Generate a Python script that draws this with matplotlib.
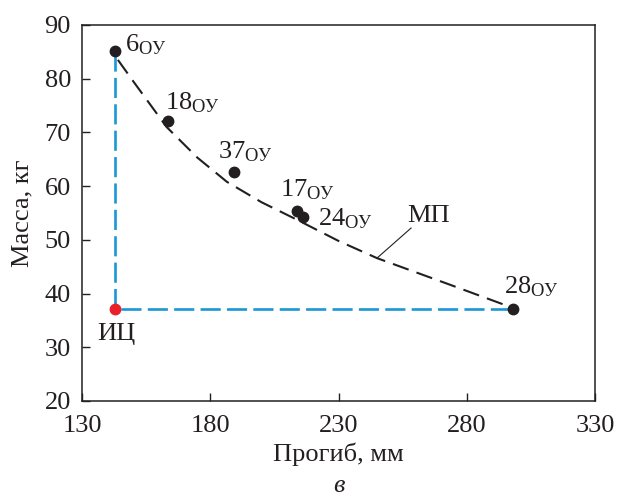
import matplotlib
matplotlib.use("Agg")
import matplotlib.pyplot as plt

plt.rcParams['font.family'] = ['Liberation Serif', 'DejaVu Serif']
plt.rcParams['mathtext.fontset'] = 'custom'
plt.rcParams['mathtext.rm'] = 'Liberation Serif'
plt.rcParams['mathtext.it'] = 'Liberation Serif:italic'
plt.rcParams['lines.scale_dashes'] = False

# Data
names = ['6', '18', '37', '17', '24', '28']
deflection = [143.0, 163.5, 189.3, 214.0, 216.3, 298.0]
mass = [85.2, 72.1, 62.6, 55.3, 54.3, 37.2]
label_x = [146.8, 162.4, 183.0, 207.2, 222.0, 294.5]
label_y = [85.0, 74.2, 65.2, 58.0, 52.6, 40.1]

ideal_x, ideal_y = 143.0, 37.2  # ИЦ

front_x = [144, 150, 163, 175, 186.5, 200, 214, 230, 245, 272, 297]
front_y = [83.5, 79.5, 71.0, 65.3, 60.8, 57.0, 53.7, 49.8, 46.6, 41.9, 37.5]

xticks = [130, 180, 230, 280, 330]
yticks = [20, 30, 40, 50, 60, 70, 80, 90]

ink = '#231f20'
blue = '#1b97d5'
red = '#e8202a'
FS = 19

fig = plt.figure(figsize=(6.18, 4.98), dpi=100)
ax = fig.add_axes([0.1327, 0.1948, 0.8301, 0.755])

# blue guides
ax.plot([deflection[0], ideal_x, deflection[-1]], [mass[0], ideal_y, mass[-1]],
        color=blue, lw=1.9, dashes=(14.5, 4.5), zorder=2)
# Pareto front
ax.plot(front_x, front_y, color=ink, lw=1.5, dashes=(12, 6), zorder=3)
# points
ax.plot(deflection, mass, 'o', color=ink, ms=7.5, zorder=4)
ax.plot([ideal_x], [ideal_y], 'o', color=red, ms=7.5, zorder=5)

for n, lx, ly in zip(names, label_x, label_y):
    ax.text(lx, ly, r'$\mathrm{' + n + r'}_{\mathrm{ОУ}}$', fontsize=FS,
            color=ink, ha='left', va='baseline')

ax.text(135.8, 31.3, 'ИЦ', fontsize=FS, color=ink, ha='left', va='baseline')
ax.text(256.7, 53.3, 'МП', fontsize=FS, color=ink, ha='left', va='baseline')
ax.plot([258.3, 245.0], [52.2, 46.6], color=ink, lw=0.8, zorder=3)

ax.set_xlim(130, 330)
ax.set_ylim(20, 90)
ax.set_xticks(xticks)
ax.set_yticks(yticks)
ax.tick_params(direction='in', length=6, width=1.0, labelsize=FS,
               colors=ink, top=False, right=False)
ax.tick_params(axis='x', pad=10)
ax.tick_params(axis='y', pad=8)
for s in ax.spines.values():
    s.set_color(ink)
    s.set_linewidth(1.1)

ax.set_xlabel('Прогиб, мм', fontsize=FS, color=ink, labelpad=4)
ax.set_ylabel('Масса, кг', fontsize=FS, color=ink, labelpad=8)
fig.text(0.5478, 0.012, 'в', fontsize=FS, style='italic', color=ink,
         ha='center', va='baseline')

fig.savefig('out.png', dpi=100)
